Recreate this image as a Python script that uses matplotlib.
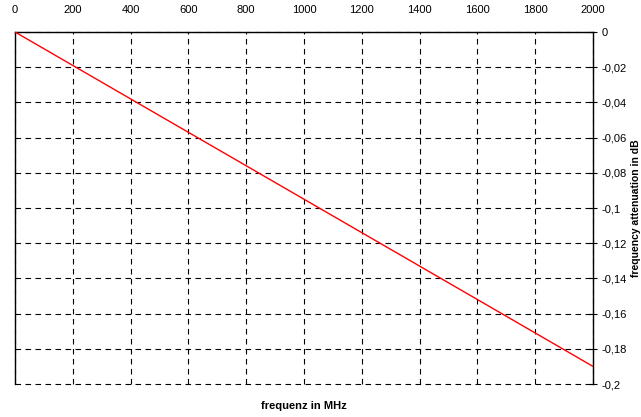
import numpy as np
import matplotlib.pyplot as plt
from matplotlib.ticker import FuncFormatter

plt.rcParams['font.family'] = ['Liberation Sans', 'DejaVu Sans']

freq_mhz = [0, 200, 400, 600, 800, 1000, 1200, 1400, 1600, 1800, 2000]
atten_db = [0, -0.019, -0.038, -0.057, -0.076, -0.095, -0.114, -0.133, -0.152, -0.171, -0.19]
x_ticks = [0, 200, 400, 600, 800, 1000, 1200, 1400, 1600, 1800, 2000]
y_ticks = [0, -0.02, -0.04, -0.06, -0.08, -0.1, -0.12, -0.14, -0.16, -0.18, -0.2]


def comma_fmt(v, pos):
    if abs(v) < 1e-9:
        return '0'
    return ('%g' % v).replace('.', ',')


fig = plt.figure(figsize=(6.41, 4.17), dpi=100)
ax = fig.add_axes([15 / 641, 1 - 384 / 417, (593 - 15) / 641, (384 - 32) / 417])

ax.plot(freq_mhz, atten_db, color='#ff0000', linewidth=1.0, zorder=3)

ax.set_xlim(0, 2000)
ax.set_ylim(-0.2, 0)
ax.set_xticks(x_ticks)
ax.set_yticks(y_ticks)
ax.yaxis.set_major_formatter(FuncFormatter(comma_fmt))

ax.xaxis.tick_top()
ax.yaxis.tick_right()
ax.tick_params(axis='x', direction='in', length=0, labelsize=8, pad=12)
ax.tick_params(axis='y', direction='inout', length=6, width=0.8, labelsize=8, pad=3)

ax.grid(True, color='black', linestyle=(0, (5, 4)), linewidth=0.8)
# keep the dashed line at -0.2 whole (it sits on the frame edge)
for gl in ax.get_xgridlines() + ax.get_ygridlines():
    gl.set_clip_on(False)
for s in ['top', 'right', 'left']:
    ax.spines[s].set_color('black')
    ax.spines[s].set_linewidth(1.0)
ax.spines['bottom'].set_visible(False)

fig.text(304 / 641, 1 - 406 / 417, 'frequenz in MHz', ha='center', va='center',
         fontsize=8, fontweight='bold')
fig.text(636 / 641, 1 - 208 / 417, 'frequency attenuation in dB', ha='center', va='center',
         rotation=90, fontsize=7.5, fontweight='bold')

fig.savefig('out.png', dpi=100)
